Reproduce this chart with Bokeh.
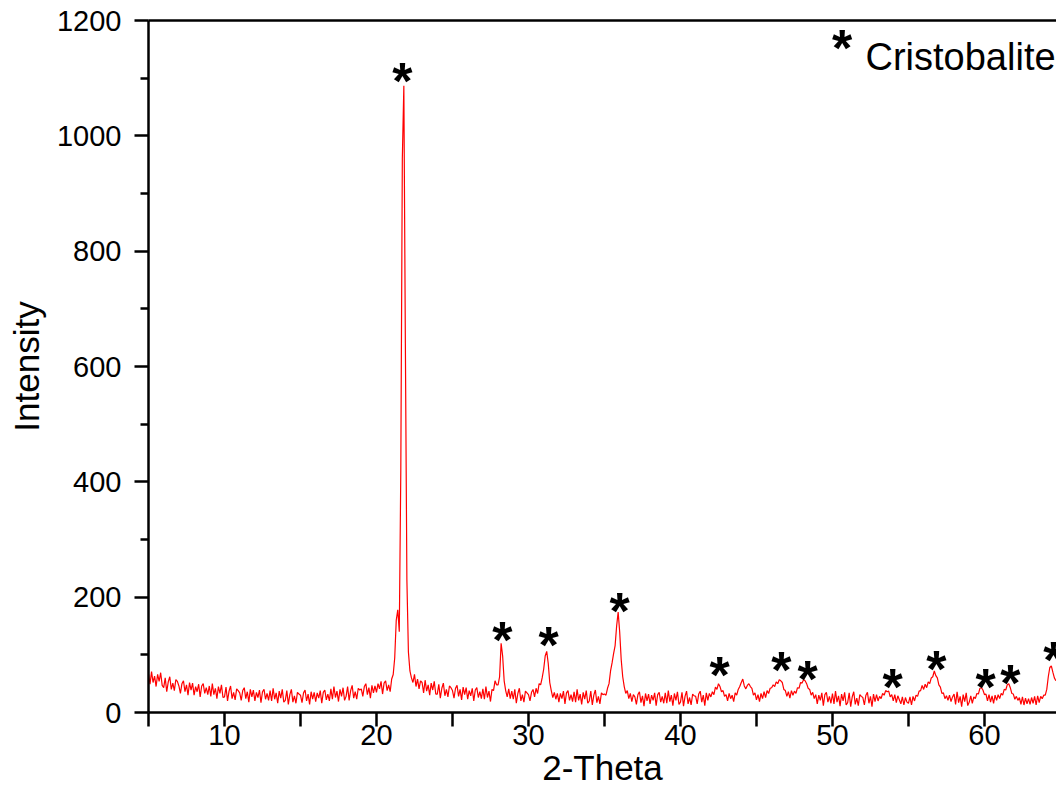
import numpy as np
from bokeh.plotting import figure
from bokeh.models import FixedTicker, LinearAxis, Label, Range1d, ColumnDataSource
from bokeh.core.properties import value
from bokeh.embed import file_html
from bokeh.resources import INLINE

# ---- data (2-Theta grid from 5.0 in 0.1 steps) ----
two_theta_start = 5.0
two_theta_step = 0.1
intensity = [
    67, 49, 71, 52, 63, 45, 66, 54, 69, 47,      # 5
    43, 60, 36, 53, 62, 40, 51, 38, 57, 54,      # 6
    46, 33, 50, 55, 36, 48, 30, 52, 39, 51,      # 7
    30, 45, 36, 49, 27, 46, 50, 33, 43, 31,      # 8
    46, 28, 50, 31, 42, 24, 45, 33, 48, 26,      # 9
    27, 44, 20, 37, 46, 24, 35, 22, 41, 38,      # 10
    34, 21, 38, 43, 24, 36, 18, 40, 27, 39,      # 11
    20, 35, 26, 39, 17, 36, 40, 23, 33, 21,      # 12
    38, 20, 42, 23, 34, 16, 37, 25, 40, 18,      # 13
    21, 38, 14, 31, 40, 18, 29, 16, 35, 32,      # 14
    30, 17, 34, 39, 20, 32, 14, 36, 23, 35,      # 15
    19, 34, 25, 38, 16, 35, 39, 22, 32, 20,      # 16
    41, 23, 45, 26, 37, 19, 40, 28, 43, 21,      # 17
    28, 45, 21, 38, 47, 25, 36, 23, 42, 39,      # 18
    41, 28, 45, 50, 31, 43, 25, 47, 34, 46,      # 19
    35, 50, 41, 54, 32, 51, 55, 38, 48, 36,      # 20
    58, 66, 95, 160, 178, 140, 420, 960, 1087, 640,  # 21
    230, 105, 72, 60, 52, 66, 45, 58, 41, 55,    # 22
    52, 34, 56, 37, 48, 30, 51, 39, 54, 32,      # 23
    32, 49, 25, 42, 51, 29, 40, 27, 46, 43,      # 24
    38, 25, 42, 47, 28, 40, 22, 44, 31, 43,      # 25
    23, 38, 29, 42, 20, 39, 43, 26, 36, 24,      # 26
    41, 23, 45, 26, 37, 19, 40, 38, 55, 48,      # 27
    48, 62, 120, 98, 55, 38, 27, 41, 24, 37,     # 28
    23, 40, 16, 33, 42, 20, 31, 18, 37, 34,      # 29
    31, 20, 35, 40, 27, 42, 33, 50, 48, 60,      # 30
    75, 98, 106, 85, 52, 38, 26, 35, 23, 33,     # 31
    18, 33, 24, 37, 15, 34, 38, 21, 31, 19,      # 32
    36, 18, 40, 21, 32, 14, 35, 23, 38, 16,      # 33
    20, 37, 13, 30, 39, 17, 28, 15, 34, 31,      # 34
    32, 30, 42, 50, 72, 86, 102, 116, 150, 174,  # 35
    140, 92, 62, 45, 33, 38, 24, 33, 19, 31,     # 36
    27, 14, 31, 36, 17, 29, 11, 33, 20, 32,      # 37
    15, 30, 21, 34, 12, 31, 35, 18, 28, 16,      # 38
    34, 16, 38, 19, 30, 12, 33, 21, 36, 14,      # 39
    18, 35, 11, 28, 37, 15, 26, 13, 32, 29,      # 40
    28, 15, 32, 37, 18, 30, 12, 34, 21, 33,      # 41
    27, 36, 31, 44, 40, 50, 45, 36, 38, 28,      # 42
    31, 20, 33, 24, 30, 19, 34, 30, 40, 45,      # 43
    52, 58, 46, 41, 47, 50, 45, 42, 30, 34,      # 44
    22, 31, 19, 33, 24, 36, 26, 38, 33, 42,      # 45
    43, 48, 45, 53, 50, 57, 55, 52, 40, 38,      # 46
    28, 36, 25, 38, 30, 37, 33, 43, 42, 52,      # 47
    51, 57, 55, 50, 42, 40, 30, 35, 24, 31,      # 48
    15, 30, 21, 34, 12, 31, 35, 18, 28, 16,      # 49
    33, 15, 37, 18, 29, 11, 32, 20, 35, 13,      # 50
    17, 34, 10, 27, 36, 14, 25, 12, 31, 28,      # 51
    26, 13, 30, 35, 16, 28, 10, 32, 19, 31,      # 52
    20, 28, 24, 33, 30, 38, 36, 37, 27, 31,      # 53
    20, 31, 17, 29, 22, 15, 27, 13, 26, 18,      # 54
    16, 27, 13, 28, 20, 30, 28, 37, 38, 47,      # 55
    40, 49, 43, 53, 50, 60, 62, 72, 64, 60,      # 56
    48, 44, 33, 34, 24, 29, 21, 30, 19, 27,      # 57
    32, 14, 36, 17, 28, 10, 31, 19, 34, 12,      # 58
    18, 29, 16, 27, 24, 33, 32, 42, 43, 39,      # 59
    31, 32, 20, 31, 18, 29, 16, 30, 21, 31,      # 60
    24, 33, 30, 40, 39, 48, 50, 43, 33, 32,      # 61
    23, 28, 21, 26, 14, 27, 13, 25, 15, 24,      # 62
    14, 26, 16, 28, 13, 29, 17, 28, 24, 30,      # 63
    30, 40, 62, 78, 81, 70, 60, 55,              # 64
]
two_theta = np.round(two_theta_start + two_theta_step * np.arange(len(intensity)), 2)

# Cristobalite markers (asterisk centres)
star_two_theta = [21.71, 28.29, 31.32, 35.99, 42.57, 46.64, 48.36, 53.95, 56.84, 60.07, 61.71, 64.54]
star_intensity = [1108, 137, 130, 189, 78, 85, 71, 57, 87, 57, 64, 104]

x_ticks = [5, 10, 15, 20, 25, 30, 35, 40, 45, 50, 55, 60]
x_tick_labels = {5: "", 10: "10", 15: "", 20: "20", 25: "", 30: "30", 35: "",
                 40: "40", 45: "", 50: "50", 55: "", 60: "60"}
y_ticks = [0, 200, 400, 600, 800, 1000, 1200]
y_minor_ticks = [100, 300, 500, 700, 900, 1100]

x_title = "2-Theta"
y_title = "Intensity"
legend_text = "Cristobalite"

FONT = "Liberation Sans"
AX_W = 2.5
STAR_FS = 52

p = figure(width=1056, height=789, output_backend="svg", toolbar_location=None,
           x_range=Range1d(5, 64.74), y_range=Range1d(0, 1200),
           min_border_left=148, min_border_right=0, min_border_top=20, min_border_bottom=77)
p.outline_line_color = None
p.grid.visible = False
p.background_fill_color = "white"
p.border_fill_color = "white"

src = ColumnDataSource(dict(x=two_theta, y=intensity))
p.line("x", "y", source=src, line_color="#ff0000", line_width=1.2)

ssrc = ColumnDataSource(dict(x=star_two_theta, y=star_intensity, t=["*"] * len(star_two_theta)))
p.text("x", "y", text="t", source=ssrc, text_font=value(FONT), text_font_style="bold",
       text_font_size=f"{STAR_FS}px", text_align="center", text_baseline="alphabetic",
       y_offset=7, text_color="black")

xa = p.xaxis[0]
xa.ticker = FixedTicker(ticks=x_ticks, minor_ticks=[])
xa.major_label_overrides = x_tick_labels
ya = p.yaxis[0]
ya.ticker = FixedTicker(ticks=y_ticks, minor_ticks=y_minor_ticks)

for ax in (xa, ya):
    ax.axis_line_width = AX_W
    ax.axis_line_color = "black"
    ax.major_tick_line_width = AX_W
    ax.minor_tick_line_width = AX_W
    ax.major_tick_line_color = "black"
    ax.minor_tick_line_color = "black"
    ax.major_tick_in = 0
    ax.minor_tick_in = 0
    ax.major_tick_out = 14
    ax.minor_tick_out = 8
    ax.major_label_text_font = FONT
    ax.major_label_text_font_size = "29px"
    ax.major_label_text_color = "black"
    ax.axis_label_text_font = FONT
    ax.axis_label_text_font_size = "35px"
    ax.axis_label_text_font_style = "normal"
    ax.axis_label_text_color = "black"
xa.major_label_standoff = -2
ya.major_label_standoff = 13
xa.axis_label = x_title
ya.axis_label = y_title
xa.axis_label_standoff = 0
xa.axis_label_text_line_height = 0.2
ya.axis_label_standoff = 8

top = LinearAxis(ticker=FixedTicker(ticks=[], minor_ticks=[]), axis_line_width=AX_W,
                 axis_line_color="black", major_tick_line_color=None, minor_tick_line_color=None,
                 major_label_text_font_size="0px")
p.add_layout(top, "above")

p.add_layout(Label(x=693.5, y=664.5, x_units="screen", y_units="screen", text="*",
                   text_font=FONT, text_font_style="bold", text_font_size=f"{STAR_FS}px",
                   text_align="center", text_baseline="alphabetic", text_color="black"))
p.add_layout(Label(x=717, y=656, x_units="screen", y_units="screen", text=legend_text,
                   text_font=FONT, text_font_size="38px", text_align="left",
                   text_baseline="alphabetic", text_color="black"))

open("out.html", "w").write(file_html(p, INLINE))
